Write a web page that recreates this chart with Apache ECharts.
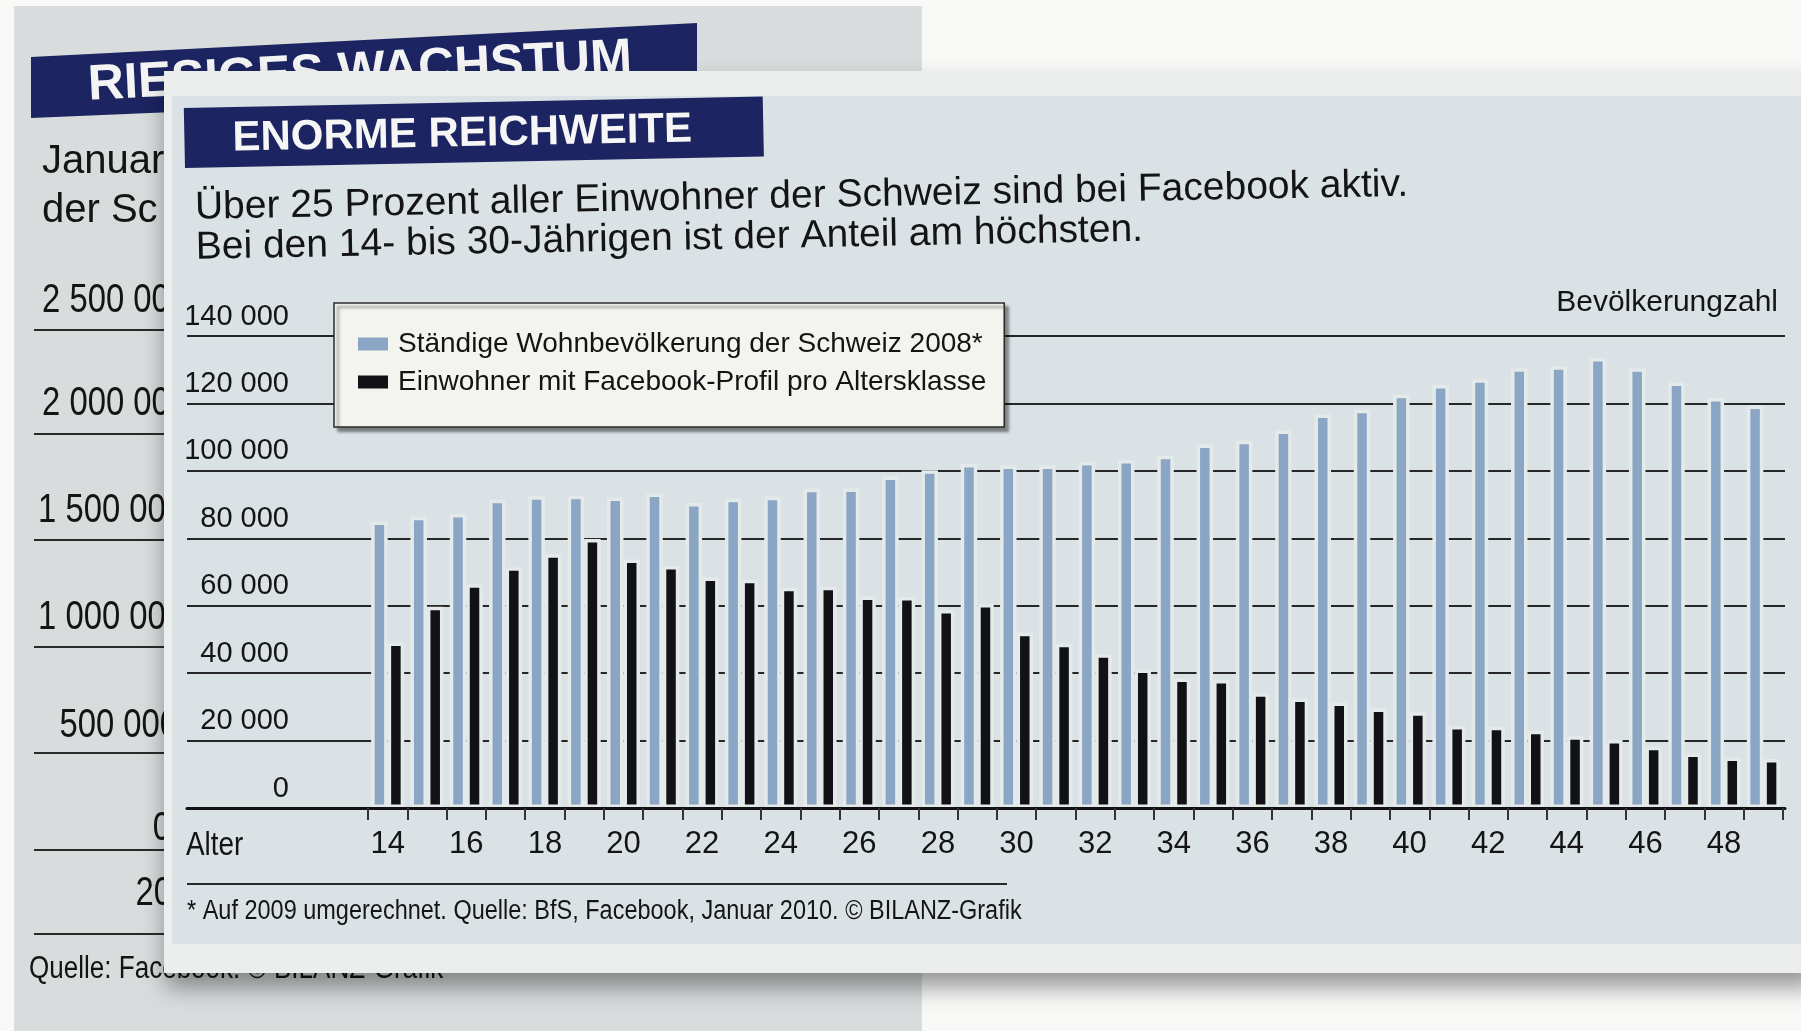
<!DOCTYPE html>
<html>
<head>
<meta charset="utf-8">
<script src="https://cdn.jsdelivr.net/npm/echarts@6/dist/echarts.min.js"></script>
<style>
html,body{margin:0;padding:0;background:#f8f8f7;}
#c{width:1801px;height:1031px;}
</style>
</head>
<body>
<div id="c"></div>
<script>
// ---- data ----
const ages = ['14','15','16','17','18','19','20','21','22','23','24','25','26','27','28','29','30','31','32','33','34','35','36','37','38','39','40','41','42','43','44','45','46','47','48','49'];
const population = [85000, 86400, 87200, 91400, 92500, 92600, 92100, 93300, 90500, 91700, 92300, 94700, 94800, 98300, 100200, 102000, 101600, 101600, 102600, 103200, 104500, 107800, 108900, 112000, 116700, 118100, 122600, 125500, 127200, 130400, 131000, 133500, 130400, 126200, 121600, 119400];
const facebookUsers = [49100, 59700, 66400, 71400, 75300, 79800, 73700, 71800, 68400, 67700, 65300, 65600, 62700, 62600, 58700, 60500, 52000, 48700, 45600, 41100, 38400, 38000, 34000, 32500, 31300, 29500, 28400, 24300, 24100, 22900, 21300, 20200, 18200, 16200, 15000, 14500];
const yTickLabels = ['0', '20 000', '40 000', '60 000', '80 000', '100 000', '120 000', '140 000'];
const yStep = 20000;
const seriesNames = ['Ständige Wohnbevölkerung der Schweiz 2008*', 'Einwohner mit Facebook-Profil pro Altersklasse'];
const backTickLabels = ['2 500 000', '2 000 000', '1 500 000', '1 000 000', '500 000', '0', '20'];

// ---- styling ----
const SANS = '"Liberation Sans", Arial, Helvetica, sans-serif';
const INK = '#141414';
const BLUE = '#8ba5c4';
const HALO = '#e4e9ea';

const chart = echarts.init(document.getElementById('c'), null, {renderer: 'canvas'});

// condensed-looking text: Liberation Sans squeezed horizontally
function narrowText(x, y, text, size, opts) {
  opts = opts || {};
  return {type: 'text', z: opts.z !== undefined ? opts.z : 5, x: x, y: y,
    scaleX: opts.sx || 0.82, scaleY: 1,
    style: {text: text, font: size + 'px ' + SANS, fill: INK,
      textAlign: opts.align || 'left', textVerticalAlign: 'middle'}};
}

// back page (partly hidden) decorations
const backLabelY = [301, 404, 511, 618, 726, 829, 894];
const backLabelRight = [188, 188, 184, 184, 178, 171, 172];
const backLineY = [330, 434, 540, 647, 753, 850, 934];
const backEls = [];
backTickLabels.forEach((t, i) => {
  backEls.push(narrowText(backLabelRight[i], backLabelY[i], t, 40, {align: 'right', z: -15}));
  backEls.push({type: 'line', z: -15, shape: {x1: 34, y1: backLineY[i], x2: 170, y2: backLineY[i]},
    style: {stroke: '#2a2a2a', lineWidth: 2}});
});

const option = {
  animation: false,
  backgroundColor: '#f8f8f7',
  textStyle: {fontFamily: SANS},
  graphic: [
    {type: 'rect', z: -20, shape: {x: 14, y: 6, width: 908, height: 1025}, style: {fill: '#d8dcdc'}},
    {type: 'polygon', z: -18, shape: {points: [[31, 57], [697, 23], [697, 90], [31, 118]]}, style: {fill: '#1c2561'}},
    {type: 'text', z: -17, x: 88, y: 86, rotation: 0.05,
      style: {text: 'RIESIGES WACHSTUM', font: 'bold 50px ' + SANS, fill: '#f4f4f4', textAlign: 'left', textVerticalAlign: 'middle'}},
    {type: 'text', z: -15, x: 42, y: 162, style: {text: 'Januar', font: '40px ' + SANS, fill: INK, textVerticalAlign: 'middle'}},
    {type: 'text', z: -15, x: 42, y: 211, style: {text: 'der Sc', font: '40px ' + SANS, fill: INK, textVerticalAlign: 'middle'}},
    narrowText(29, 969, 'Quelle: Facebook. © BILANZ-Grafik', 31, {sx: 0.84, z: -15}),
    ...backEls,
    // front card
    {type: 'rect', z: -8, shape: {x: 164, y: 71, width: 1650, height: 902},
      style: {fill: '#eceeed', shadowBlur: 22, shadowColor: 'rgba(0,0,0,0.40)', shadowOffsetX: 2, shadowOffsetY: 14}},
    {type: 'rect', z: -7, shape: {x: 172, y: 96, width: 1629, height: 848}, style: {fill: '#dbe2e5'}},
    // title banner + subtitle (slightly tilted like the photo)
    {type: 'group', z: -6, x: 185, y: 168, rotation: 0.02, children: [
      {type: 'rect', z: -6, shape: {x: 0, y: -60, width: 579, height: 60}, style: {fill: '#1c2561'}},
      {type: 'text', z: -5, x: 48, y: -28, style: {text: 'ENORME REICHWEITE', font: 'bold 42px ' + SANS, fill: '#f6f6f6', textVerticalAlign: 'middle'}}
    ]},
    {type: 'group', z: -6, x: 195, y: 208, rotation: 0.019, children: [
      {type: 'text', z: -5, x: 0, y: 0, style: {text: 'Über 25 Prozent aller Einwohner der Schweiz sind bei Facebook aktiv.', font: '39px ' + SANS, fill: INK, textVerticalAlign: 'middle'}},
      {type: 'text', z: -5, x: 0, y: 40, style: {text: 'Bei den 14- bis 30-Jährigen ist der Anteil am höchsten.', font: '39px ' + SANS, fill: INK, textVerticalAlign: 'middle'}}
    ]},
    {type: 'text', z: 5, x: 1778, y: 303, style: {text: 'Bevölkerungzahl', font: '30px ' + SANS, fill: INK, textAlign: 'right', textVerticalAlign: 'middle'}},
    narrowText(186, 846, 'Alter', 34),
    {type: 'line', z: 5, shape: {x1: 187, y1: 884, x2: 1007, y2: 884}, style: {stroke: '#2a2a2a', lineWidth: 2}},
    narrowText(187, 912, '* Auf 2009 umgerechnet. Quelle: BfS, Facebook, Januar 2010. © BILANZ-Grafik', 27, {sx: 0.87})
  ],
  legend: {
    orient: 'vertical', left: 334, top: 303,
    itemWidth: 30, itemHeight: 13, itemGap: 0, icon: 'rect',
    padding: [22, 18, 26, 24],
    backgroundColor: '#f3f3f0', borderColor: '#2a2a2a', borderWidth: 1.5,
    shadowColor: 'rgba(0,0,0,0.45)', shadowBlur: 3, shadowOffsetX: 4, shadowOffsetY: 4,
    itemStyle: {borderWidth: 0},
    textStyle: {fontFamily: SANS, fontSize: 28, color: INK, lineHeight: 38, padding: [0, 0, 0, 5]},
    data: seriesNames
  },
  grid: [
    {left: 187, top: 336, width: 1598, height: 472, containLabel: false},
    {left: 368, top: 336, width: 1415, height: 472, containLabel: false}
  ],
  xAxis: [
    {type: 'value', gridIndex: 0, min: 0, max: 1, z: 6,
      axisLine: {show: true, lineStyle: {color: '#111', width: 3}},
      axisTick: {show: false}, axisLabel: {show: false}, splitLine: {show: false}},
    {type: 'category', gridIndex: 1, data: ages, z: 6,
      axisLine: {show: false},
      axisTick: {show: true, interval: 0, length: 12, alignWithLabel: false, lineStyle: {color: '#333', width: 2}},
      axisLabel: {interval: 1, margin: 21, fontFamily: SANS, fontSize: 31, color: INK},
      splitLine: {show: false}}
  ],
  yAxis: [
    {type: 'value', gridIndex: 0, min: 0, max: 140000, interval: yStep,
      axisLine: {show: false}, axisTick: {show: false},
      splitLine: {show: true, lineStyle: {color: '#262626', width: 2}},
      axisLabel: {inside: true, margin: 102, align: 'right', verticalAlign: 'bottom',
        padding: [0, 0, 5, 0], fontFamily: SANS, fontSize: 29, color: INK,
        formatter: v => yTickLabels[Math.round(v / yStep)]}},
    {type: 'value', gridIndex: 1, min: 0, max: 140000, interval: yStep, show: false,
      splitLine: {show: false}}
  ],
  series: [
    {name: seriesNames[0], type: 'bar', xAxisIndex: 1, yAxisIndex: 1, data: population,
      barWidth: 16.5, barGap: '0%',
      itemStyle: {color: BLUE, borderColor: HALO, borderWidth: 3.5}},
    {name: seriesNames[1], type: 'bar', xAxisIndex: 1, yAxisIndex: 1, data: facebookUsers,
      barWidth: 16.5, barGap: '0%',
      itemStyle: {color: '#121116', borderColor: HALO, borderWidth: 3.5}}
  ]
};
chart.setOption(option);
</script>
</body>
</html>
